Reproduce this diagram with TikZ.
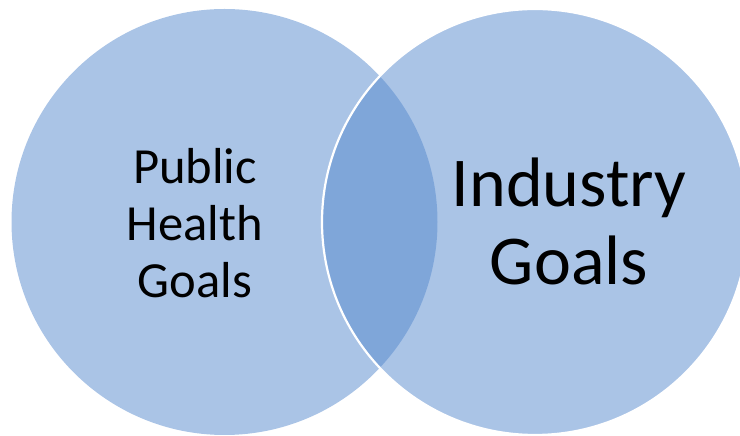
\documentclass[tikz,border=0pt]{standalone}
\usepackage{fontspec}
\setmainfont{Carlito}
\definecolor{vennblue}{RGB}{85,137,205}
\begin{document}
\begin{tikzpicture}[x=1pt,y=1pt,
  setcircle/.style={circle, inner sep=0pt, minimum size=426pt,
    fill=vennblue, fill opacity=0.5, text opacity=1},
  smalllabel/.style={align=center, inner sep=0pt, text=black,
    font=\fontsize{50.6}{57}\selectfont},
  biglabel/.style={align=center, inner sep=0pt, text=black,
    font=\fontsize{70}{78}\selectfont}]
  \useasboundingbox (0,0) rectangle (740,436);
  \clip (0,0) rectangle (740,436);
  % the two overlapping sets
  \node[setcircle] (health) at (224.5,214) {};
  \node[setcircle, draw=white, draw opacity=1, line width=2.2pt] (industry) at (535,214) {};
  % set labels (base anchor sits on the last line)
  \node[smalllabel, anchor=base] (healthlabel) at (195,138) {Public\\Health\\Goals};
  \node[biglabel, anchor=base] (industrylabel) at (569,151) {Industry\\Goals};
\end{tikzpicture}
\end{document}
